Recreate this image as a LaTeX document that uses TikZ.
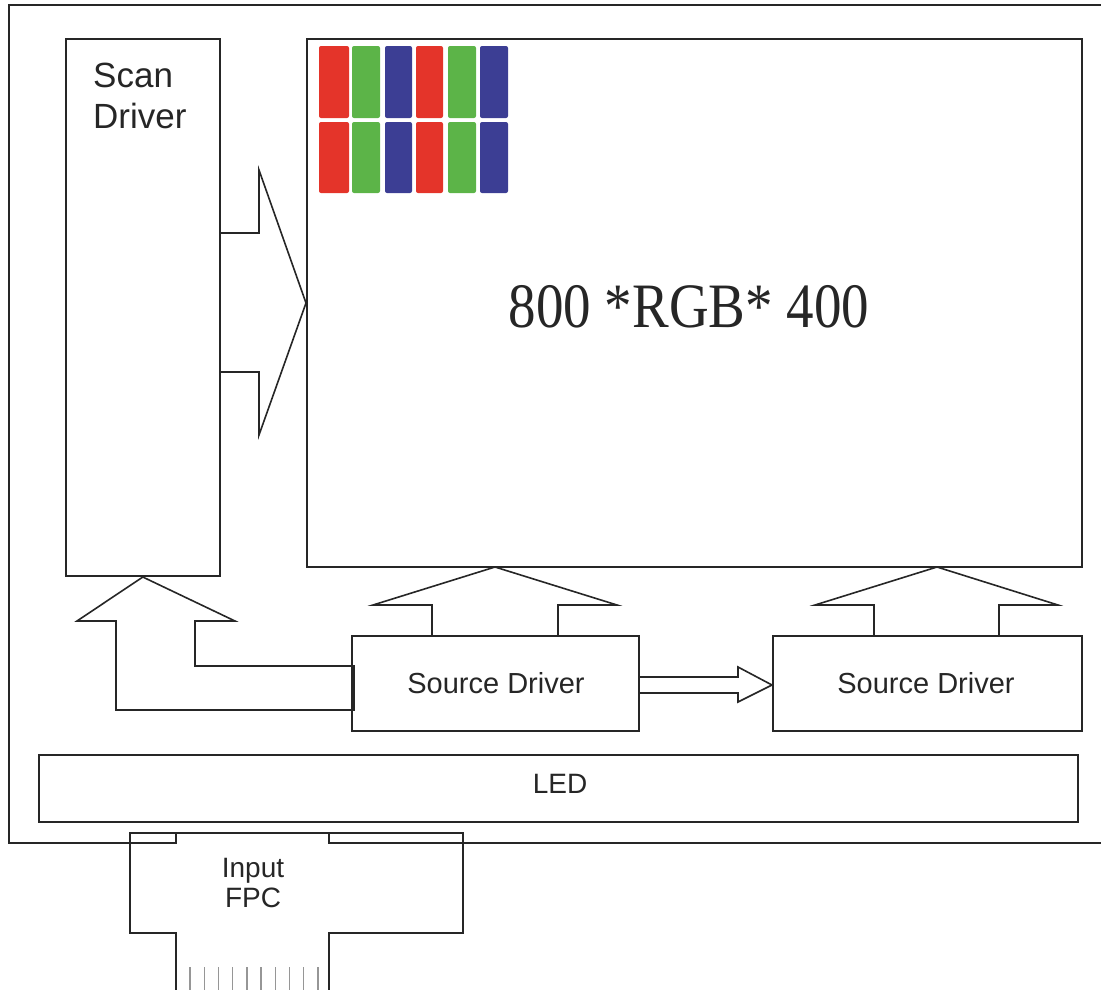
\documentclass[tikz,border=0pt]{standalone}
\usepackage{fontspec}
\setmainfont{Liberation Sans}
\newfontfamily\serifbig{Liberation Serif}
\definecolor{pxred}{RGB}{228,52,42}
\definecolor{pxgreen}{RGB}{92,180,72}
\definecolor{pxblue}{RGB}{60,62,148}
\definecolor{pingray}{RGB}{150,150,150}
\tikzset{
  ln/.style={draw=black!85, line width=1.6pt, line join=miter},
  boxn/.style={ln, rectangle, inner sep=0pt, anchor=north west},
  lbl/.style={inner sep=0pt, text=black!85},
  pix/.style={rounded corners=2pt, draw=none},
}
\begin{document}
\begin{tikzpicture}[x=1pt,y=-1pt]
\useasboundingbox (0,0) rectangle (1101,989);
% outer frame (runs off the right edge)
\draw[ln] (1110,843) -- (329,843) -- (329,833);
\draw[ln] (176,833) -- (176,843) -- (9,843) -- (9,5) -- (1110,5);
% FPC
\coordinate (fpcA) at (176,995);
\coordinate (fpcB) at (329,995);
\draw[ln] (fpcA) -- (176,933) -- (130,933) -- (130,833) -- (463,833) -- (463,933) -- (329,933) -- (fpcB);
\foreach \i in {0,...,9} \draw[pingray, line width=1.4pt] (190+14.2*\i,967) -- (190+14.2*\i,990);
\node[lbl, anchor=base, font=\fontsize{28}{30}\selectfont] (fpc1) at (253,877) {Input};
\node[lbl, anchor=base, font=\fontsize{28}{30}\selectfont] (fpc2) at (253,907) {FPC};
% boxes
\node[boxn, minimum width=154pt, minimum height=537pt] (scan) at (65,38) {};
\node[boxn, minimum width=775pt, minimum height=528pt] (panel) at (306,38) {};
\node[boxn, minimum width=287pt, minimum height=95pt] (sd1) at (351,635) {};
\node[boxn, minimum width=309pt, minimum height=95pt] (sd2) at (772,635) {};
\node[boxn, minimum width=1039pt, minimum height=67pt] (led) at (38,754) {};
% labels
\node[lbl, anchor=base west, font=\fontsize{35}{41}\selectfont] (scan1) at (93,87) {Scan};
\node[lbl, anchor=base west, font=\fontsize{35}{41}\selectfont] (scan2) at (93,128) {Driver};
\node[lbl, anchor=base, font=\fontsize{29}{32}\selectfont] (sd1l) at (496,693) {Source Driver};
\node[lbl, anchor=base, font=\fontsize{29}{32}\selectfont] (sd2l) at (926,693) {Source Driver};
\node[lbl, anchor=base, font=\fontsize{28}{30}\selectfont] (ledl) at (560,793) {LED};
\node[lbl, anchor=base, font=\serifbig\fontsize{55}{60}\selectfont] (res) at (689,327) {\scalebox{1}[1.15]{800 *RGB* 400}};
% pixel patch
\foreach \xa/\xb/\c in {319/349/pxred,352/380/pxgreen,385/412/pxblue,416/443/pxred,448/476/pxgreen,480/508/pxblue}{
  \fill[pix, \c] (\xa,46) rectangle (\xb,118);
  \fill[pix, \c] (\xa,122) rectangle (\xb,193);
}
% scan driver -> panel arrow
\draw[ln] (scan.east |- 0,233) -- (259,233) -- (259,170) -- (panel.west |- 0,303) -- (259,435) -- (259,372) -- (scan.east |- 0,372);
% source driver -> scan driver arrow
\draw[ln] (354,710) -- (116,710) -- (116,621) -- (77,621) -- (scan.south |- 0,577) -- (235,621) -- (195,621) -- (195,666) -- (354,666) -- cycle;
% source drivers -> panel arrows
\draw[ln] (432,635) -- (432,605) -- (373,605) -- (495,567) -- (617,605) -- (558,605) -- (558,635);
\draw[ln] (874,635) -- (874,605) -- (815,605) -- (937,567) -- (1058,605) -- (999,605) -- (999,635);
% source driver -> source driver arrow
\draw[ln] (sd1.east |- 0,677) -- (738,677) -- (738,667) -- (sd2.west |- 0,685) -- (738,702) -- (738,693) -- (sd1.east |- 0,693);
\end{tikzpicture}
\end{document}
